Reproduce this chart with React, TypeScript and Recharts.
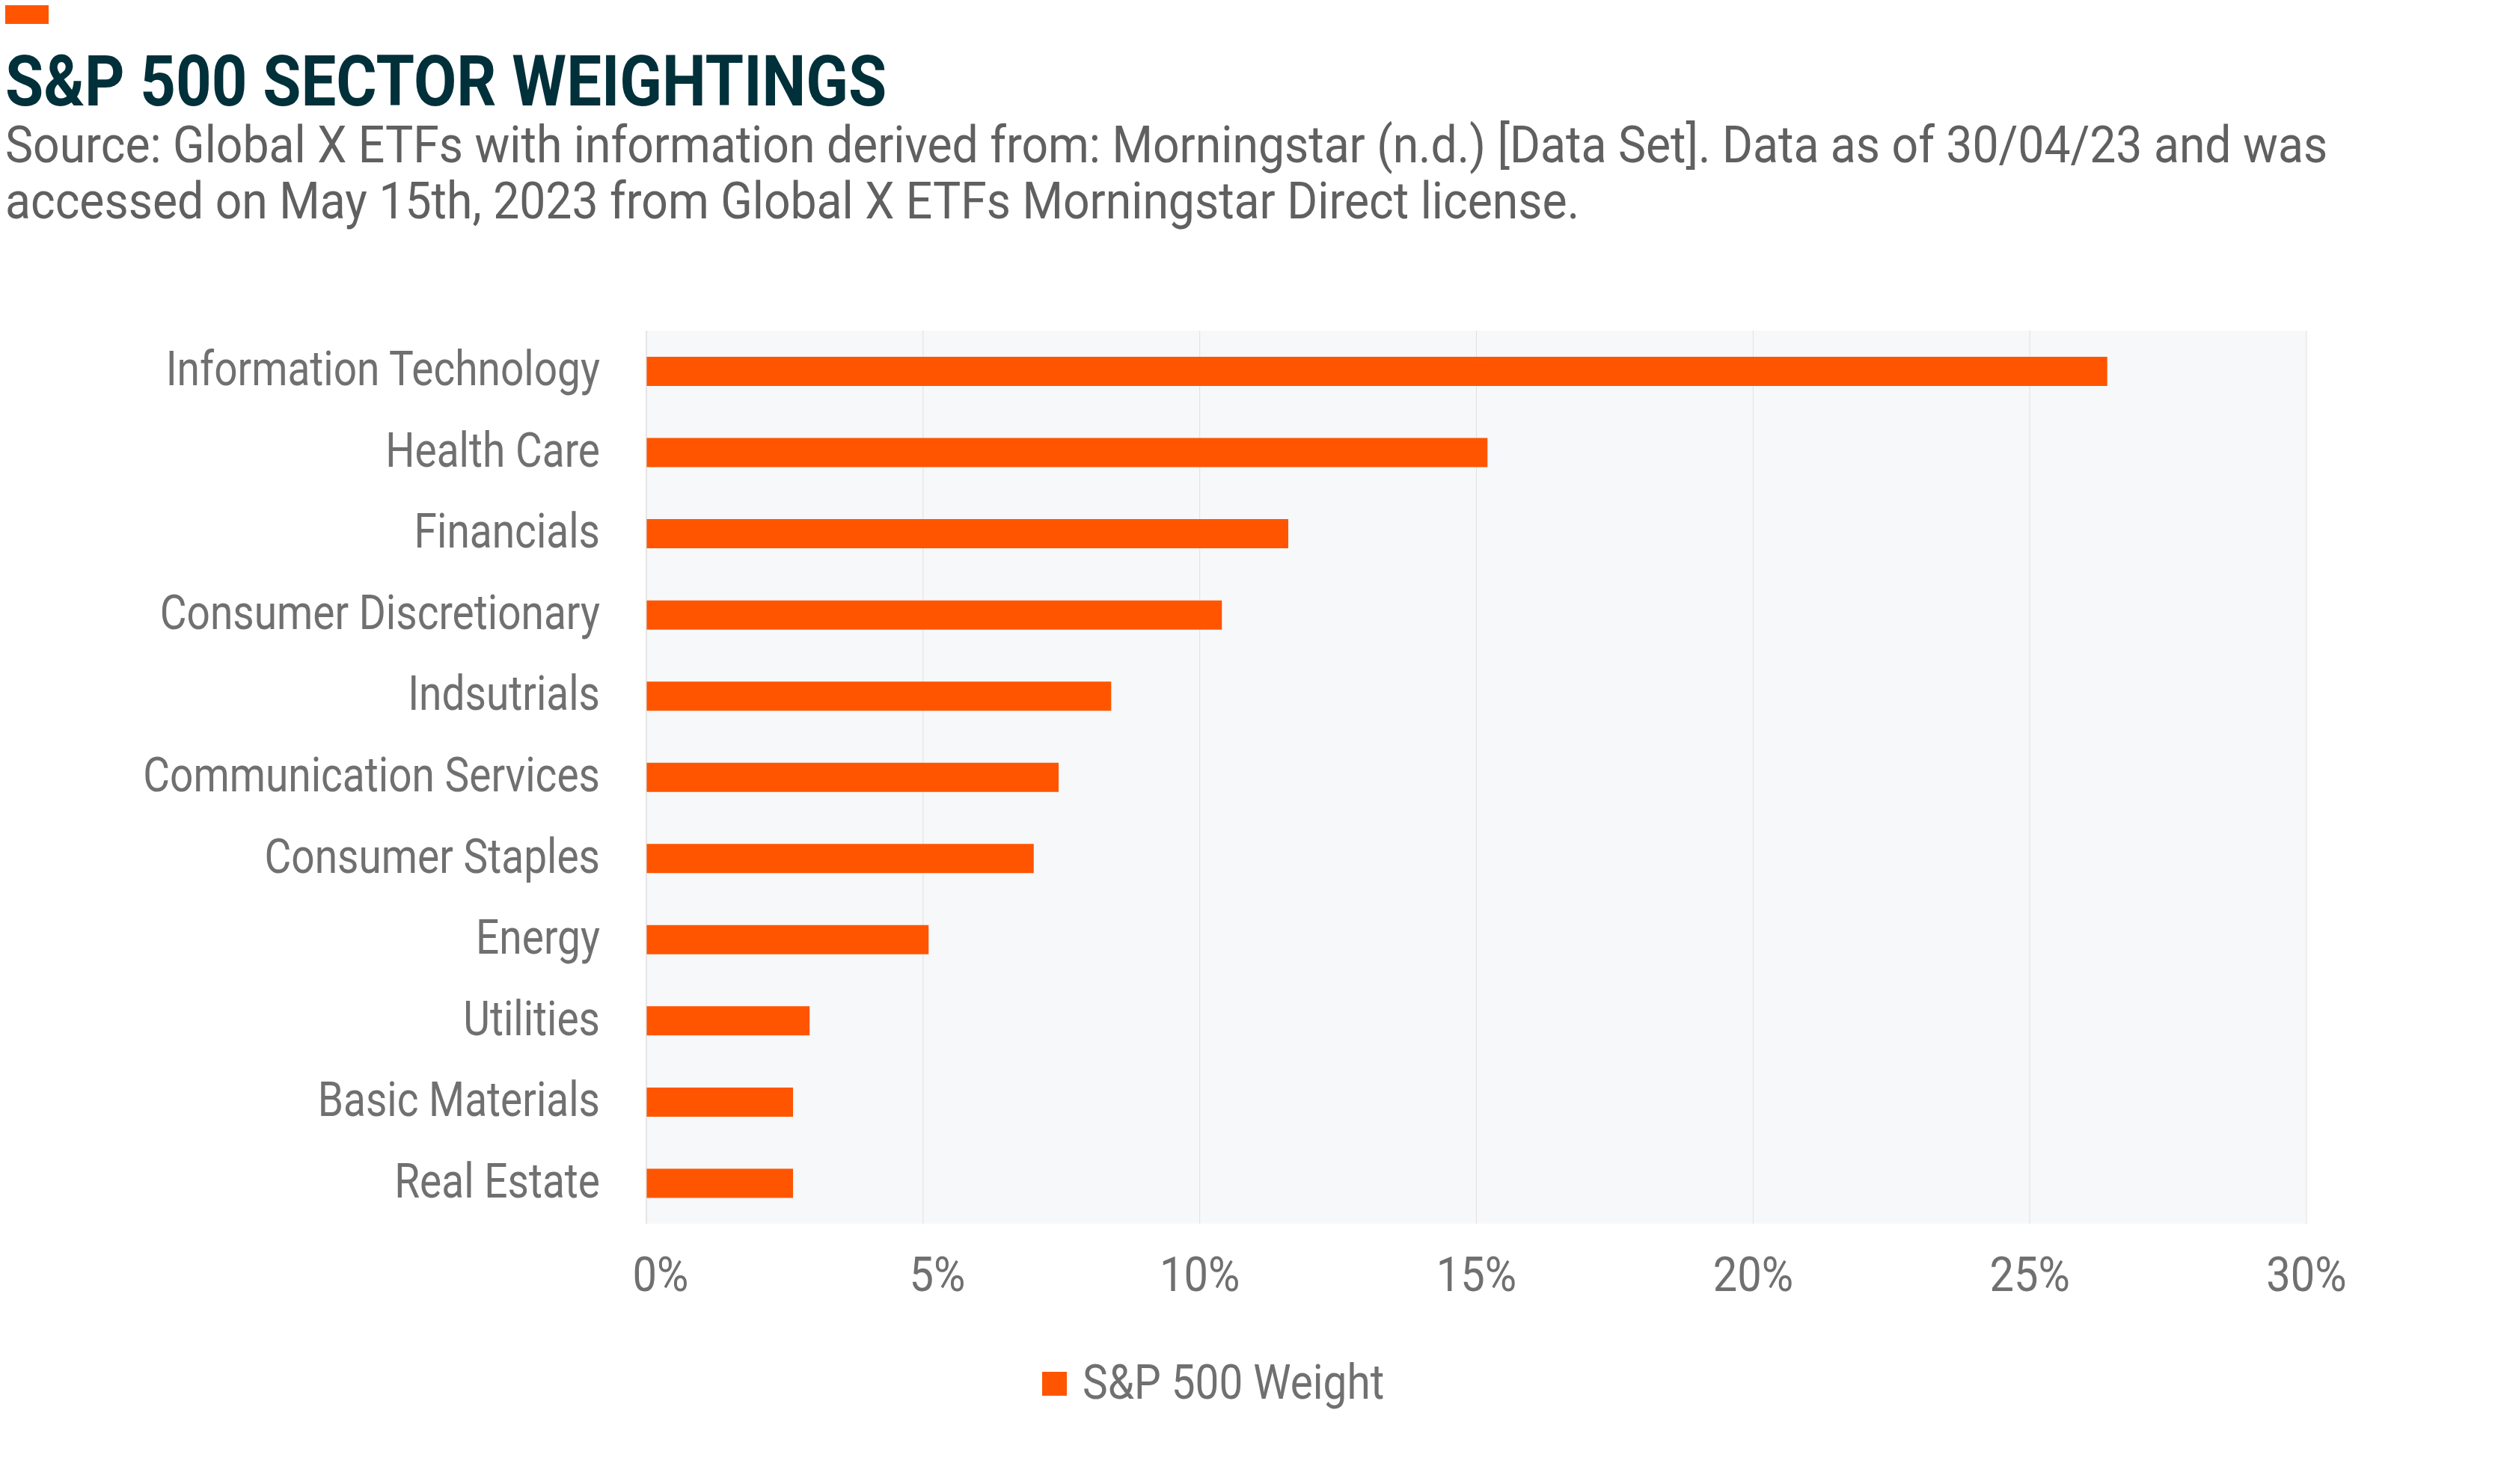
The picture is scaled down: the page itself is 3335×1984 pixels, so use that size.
import { BarChart, Bar, XAxis, YAxis, CartesianGrid, Legend } from 'recharts'

const SECTORS = [
  'Information Technology',
  'Health Care',
  'Financials',
  'Consumer Discretionary',
  'Indsutrials',
  'Communication Services',
  'Consumer Staples',
  'Energy',
  'Utilities',
  'Basic Materials',
  'Real Estate',
]

const WEIGHTS = [26.4, 15.2, 11.6, 10.4, 8.4, 7.45, 7.0, 5.1, 2.95, 2.65, 2.65]

const X_TICKS = [0, 5, 10, 15, 20, 25, 30]

const ORANGE = '#ff5500'
const LABEL_GRAY = '#707070'
// the original uses a narrow face; Roboto squeezed horizontally gets close
const FONT = 'Roboto, sans-serif'

const chartData = SECTORS.map((name, i) => ({ name, weight: WEIGHTS[i] }))

function SectorTick({ x, y, payload }: any) {
  return (
    <text
      transform={`translate(${x - 62},${y + 19}) scale(0.86,1)`}
      textAnchor="end"
      fontSize={64}
      fontFamily={FONT}
      fill={LABEL_GRAY}
    >
      {payload.value}
    </text>
  )
}

function PercentTick({ x, y, payload }: any) {
  const label = `${payload.value}%`
  // single digit labels sit a little right of their grid line in the original
  const shift = label.length < 3 ? 19 : 0
  return (
    <text
      transform={`translate(${x + shift},${y + 90}) scale(0.89,1)`}
      textAnchor="middle"
      fontSize={65}
      fontFamily={FONT}
      fill={LABEL_GRAY}
    >
      {label}
    </text>
  )
}

function LegendContent({ payload }: any) {
  return (
    <div style={{ display: 'flex', alignItems: 'flex-start' }}>
      {(payload || []).map((entry: any) => (
        <div key={entry.value} style={{ display: 'flex', alignItems: 'flex-start' }}>
          <span style={{ width: 33, height: 32, marginTop: 18, marginRight: 21, background: ORANGE, display: 'inline-block' }} />
          <span
            style={{
              fontFamily: FONT, fontSize: 65, lineHeight: '65px', color: LABEL_GRAY, whiteSpace: 'nowrap',
              display: 'inline-block', transform: 'scaleX(0.872)', transformOrigin: 'left top',
            }}
          >
            {entry.value}
          </span>
        </div>
      ))}
    </div>
  )
}

export default function App() {
  return (
    <div style={{ position: 'absolute', top: 0, left: 0, width: 3335, height: 1984, background: '#fff', overflow: 'hidden' }}>
      <div style={{ position: 'absolute', left: 7, top: 7, width: 58, height: 25, background: ORANGE }} />
      <div
        style={{
          position: 'absolute', left: 7, top: 61, fontFamily: FONT, fontWeight: 700,
          fontSize: 95, lineHeight: '95px', color: '#00303a', whiteSpace: 'nowrap',
          transform: 'scaleX(0.876)', transformOrigin: 'left top',
        }}
      >
        S&amp;P 500 SECTOR WEIGHTINGS
      </div>
      <div
        style={{
          position: 'absolute', left: 7, top: 156, fontFamily: FONT,
          fontSize: 69, lineHeight: '75px', color: '#606060', whiteSpace: 'nowrap',
          transform: 'scaleX(0.905)', transformOrigin: 'left top',
        }}
      >
        Source: Global X ETFs with information derived from: Morningstar (n.d.) [Data Set]. Data as of 30/04/23 and was
        <br />
        accessed on May 15th, 2023 from Global X ETFs Morningstar Direct license.
      </div>

      <div style={{ position: 'absolute', top: 0, left: 0 }}>
        <BarChart
          width={3335}
          height={1984}
          data={chartData}
          layout="vertical"
          margin={{ top: 442, right: 252, bottom: 228, left: 0 }}
        >
          <CartesianGrid horizontal={false} stroke="#e4dfde" fill="#f7f8fa" />
          <XAxis
            type="number"
            domain={[0, 30]}
            ticks={X_TICKS}
            axisLine={false}
            tickLine={false}
            tickSize={0}
            tickMargin={0}
            height={120}
            tick={<PercentTick />}
          />
          <YAxis
            type="category"
            dataKey="name"
            width={864}
            axisLine={{ stroke: '#dcdcdc' }}
            tickLine={false}
            tickSize={0}
            tickMargin={0}
            interval={0}
            tick={<SectorTick />}
          />
          <Legend
            layout="horizontal"
            verticalAlign="middle"
            align="center"
            wrapperStyle={{ top: 1816, left: 1393, width: 'auto' }}
            content={<LegendContent />}
          />
          <Bar dataKey="weight" name="S&P 500 Weight" fill={ORANGE} barSize={39} isAnimationActive={false} />
        </BarChart>
      </div>
    </div>
  )
}
